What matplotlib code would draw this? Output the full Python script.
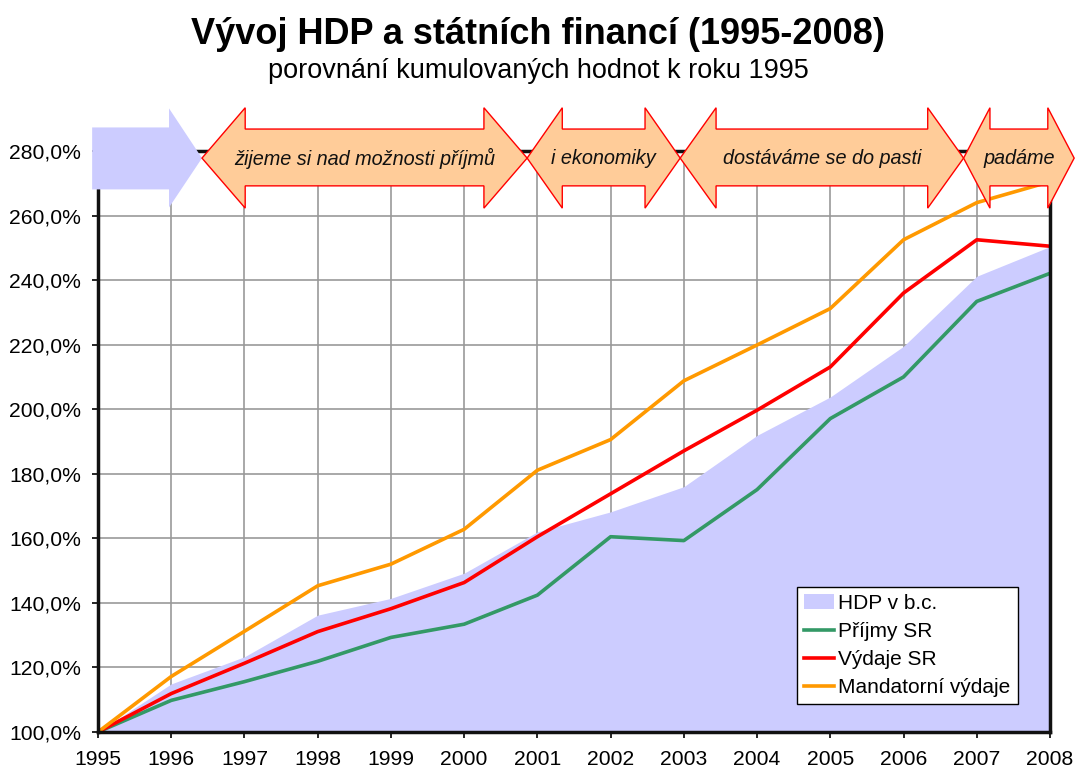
import matplotlib
matplotlib.use("Agg")
import matplotlib.pyplot as plt
from matplotlib.patches import Polygon, Patch
from matplotlib.lines import Line2D
from matplotlib.ticker import FuncFormatter, MultipleLocator

plt.rcParams['font.family'] = ['Liberation Sans', 'DejaVu Sans']

years = [1995, 1996, 1997, 1998, 1999, 2000, 2001, 2002, 2003, 2004, 2005, 2006, 2007, 2008]
hdp = [100.0, 114.9, 123.3, 136.2, 141.4, 149.2, 162.0, 168.2, 176.0, 191.9, 203.8, 219.5, 241.2, 250.4]
prijmy = [100.0, 109.8, 115.6, 121.9, 129.3, 133.4, 142.4, 160.5, 159.3, 175.1, 197.1, 210.0, 233.4, 242.1]
vydaje = [100.0, 111.9, 121.3, 131.1, 138.2, 146.3, 160.5, 173.8, 187.1, 199.7, 213.1, 236.0, 252.5, 250.5]
mandatorni = [100.0, 117.2, 131.2, 145.3, 152.0, 162.8, 181.1, 190.6, 208.8, 219.9, 231.2, 252.5, 264.0, 270.5]

series_labels = ["HDP v b.c.", "Příjmy SR", "Výdaje SR", "Mandatorní výdaje"]
phase_labels = ["žijeme si nad možnosti příjmů", "i ekonomiky", "dostáváme se do pasti", "padáme"]
phase_starts = [1996.42, 2000.86, 2002.95, 2006.82]
phase_ends = [2000.86, 2002.95, 2006.82, 2008.33]
phase_heads = [0.59, 0.48, 0.49, 0.36]

title = "Vývoj HDP a státních financí (1995-2008)"
subtitle = "porovnání kumulovaných hodnot k roku 1995"

C_AREA = "#CCCCFF"
C_GREEN = "#339966"
C_RED = "#FF0000"
C_ORANGE = "#FF9900"
C_PEACH = "#FFCC99"
LW = 2.6

W, H = 1076, 771
fig = plt.figure(figsize=(W / 100, H / 100), dpi=100)
ax = fig.add_axes([98 / W, 1 - 732 / H, (1050 - 98) / W, (732 - 151) / H])

ax.fill_between(years, 100, hdp, color=C_AREA, lw=0, zorder=2)
ax.plot(years, prijmy, color=C_GREEN, lw=LW, zorder=3)
ax.plot(years, vydaje, color=C_RED, lw=LW, zorder=4)
ax.plot(years, mandatorni, color=C_ORANGE, lw=LW, zorder=5)

ax.set_xlim(1995, 2008)
ax.set_ylim(100, 280)
ax.set_xticks(years)
ax.yaxis.set_major_locator(MultipleLocator(20))
ax.yaxis.set_major_formatter(FuncFormatter(lambda v, p: f"{v:.1f}%".replace(".", ",")))
ax.grid(True, color="#999999", lw=1.2, zorder=0)
ax.set_axisbelow(True)
ax.tick_params(axis="both", labelsize=15.2, length=4.3, width=1.2, direction="out", colors="black")
ax.tick_params(axis="x", pad=9)
ax.tick_params(axis="y", pad=8)
for s in ax.spines.values():
    s.set_color("#111111")
    s.set_linewidth(2.5)
    s.set_zorder(6)

# phase arrows (decorations)
yc, h_top, h_bot, b_top, b_bot = 277.8, 293.4, 262.3, 286.8, 269.2


def double_arrow(x0, x1, hw):
    pts = [(x0, yc), (x0 + hw, h_top), (x0 + hw, b_top), (x1 - hw, b_top), (x1 - hw, h_top),
           (x1, yc), (x1 - hw, h_bot), (x1 - hw, b_bot), (x0 + hw, b_bot), (x0 + hw, h_bot)]
    return pts


# blue single arrow at the start
blue_pts = [(1994.92, 287.3), (1995.97, 287.3), (1995.97, 293.2), (1996.42, yc),
            (1995.97, 262.5), (1995.97, 268.1), (1994.92, 268.1)]
ax.add_patch(Polygon(blue_pts, closed=True, facecolor=C_AREA, edgecolor="none",
                     clip_on=False, zorder=10))

for lab, x0, x1, hw in zip(phase_labels, phase_starts, phase_ends, phase_heads):
    ax.add_patch(Polygon(double_arrow(x0, x1, hw), closed=True, facecolor=C_PEACH,
                         edgecolor=C_RED, lw=1.0, clip_on=False, zorder=10))
    ax.text((x0 + x1) / 2, yc, lab, ha="center", va="center", fontsize=14.3,
            style="italic", color="#111111", zorder=11, clip_on=False)

fig.text(0.5, 1 - 34 / H, title, ha="center", va="center", fontsize=26, fontweight="bold")
fig.text(0.5, 1 - 71 / H, subtitle, ha="center", va="center", fontsize=19.5)

handles = [Patch(facecolor=C_AREA, edgecolor="none"),
           Line2D([], [], color=C_GREEN, lw=LW),
           Line2D([], [], color=C_RED, lw=LW),
           Line2D([], [], color=C_ORANGE, lw=LW)]
leg = fig.legend(handles, series_labels, loc="upper left",
                 bbox_to_anchor=(797 / W, 1 - 587 / H), bbox_transform=fig.transFigure,
                 fontsize=15, frameon=True, fancybox=False, framealpha=1,
                 edgecolor="black", handlelength=1.45, handletextpad=0.2,
                 labelspacing=0.43, borderpad=0.34, borderaxespad=0)
leg.get_frame().set_linewidth(1.0)

fig.savefig("out.png", dpi=100)
